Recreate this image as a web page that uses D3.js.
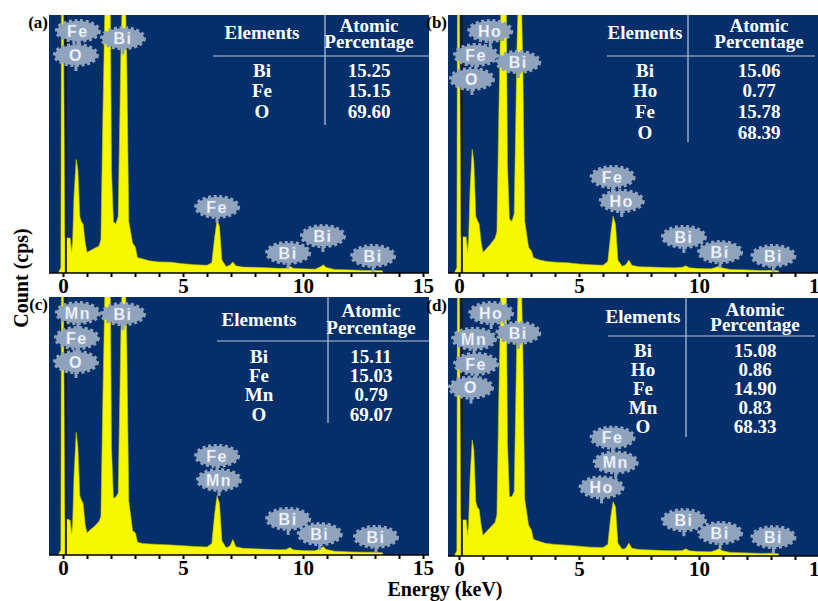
<!DOCTYPE html>
<html>
<head>
<meta charset="utf-8">
<script src="https://cdn.jsdelivr.net/npm/d3@7"></script>
<style>
  body { margin: 0; background: #fff; }
  text { font-family: "Liberation Serif", "Times New Roman", serif; font-weight: bold; }
  .badge text { font-family: "Liberation Sans", Arial, sans-serif; }
</style>
</head>
<body>
<script>
// energy grid (keV) shared by all four spectra
const energy = [-0.2, -0.09, -0.06, 0.0, 0.08, 0.16, 0.3, 0.36, 0.4, 0.46, 0.55, 0.62, 0.7, 0.76, 0.84, 0.92,
  1.0, 1.1, 1.3, 1.5, 1.58, 1.66, 1.8, 1.95, 2.02, 2.1, 2.2, 2.3, 2.42, 2.55, 2.66, 2.74, 2.9, 3.02, 3.1, 3.3,
  3.6, 4.0, 4.5, 5.0, 5.5, 6.0, 6.2, 6.32, 6.42, 6.52, 6.62, 6.8, 6.95, 7.08, 7.2, 7.5, 8.0, 8.5, 9.0, 9.3,
  9.45, 9.6, 10.0, 10.5, 10.75, 10.85, 10.95, 11.3, 12.0, 12.6, 13.0, 13.3, 13.35];

// counts (cps, relative to panel height = 100)
const countsA = [0, 2, 120, 120, 14, 13.6, 13.6, 8, 12, 30, 44, 40, 22, 20, 19, 12,
  8, 8.5, 9.5, 10.5, 13, 60, 130, 130, 40, 20, 19, 22, 90, 130, 80, 20, 11.6, 10, 6, 5.5,
  4.7, 4.3, 4.2, 3.6, 3.2, 3.0, 4, 14, 20.5, 18, 5, 2.5, 3.0, 4.3, 2.8, 2.3, 2.2, 2.0, 1.8, 1.8,
  2.6, 1.8, 1.6, 1.5, 2.5, 3.2, 2.2, 1.4, 1.2, 1.0, 1.0, 0.9, 0];
const countsB = [0, 2, 120, 120, 14.5, 14, 14, 8, 13, 32, 48, 43, 22, 20.5, 19, 12,
  8, 9, 11, 13.5, 16, 62, 130, 130, 42, 21, 20, 23, 90, 130, 80, 20, 10, 8.5, 6, 5.2,
  4.6, 4.2, 4.0, 3.5, 3.2, 3.0, 4.5, 15, 22, 19, 5, 2.6, 3.2, 5.0, 3.0, 2.4, 2.3, 2.1, 2.0, 2.2,
  2.8, 2.0, 1.7, 1.6, 2.3, 2.7, 2.0, 1.4, 1.2, 1.0, 1.1, 0.9, 0];
const countsC = [0, 2, 120, 120, 14, 14, 13.5, 8, 12, 31, 47.5, 42, 23, 21.5, 20, 12,
  8.5, 9.5, 11, 13, 15, 60, 130, 130, 42, 22, 22.5, 24, 90, 130, 80, 21, 9.5, 8.5, 5, 4.5,
  4.3, 4.1, 3.9, 3.6, 3.3, 3.1, 4.5, 16, 23, 20, 5.5, 2.8, 3.4, 6.0, 3.2, 2.6, 2.4, 2.2, 2.0, 2.1,
  2.9, 2.0, 1.7, 1.6, 2.6, 3.3, 2.2, 1.5, 1.2, 1.1, 1.1, 0.9, 0];
const countsD = [0, 2, 120, 120, 14.5, 14, 14, 8, 12.5, 30, 45, 41, 21, 19, 18, 12,
  8, 9, 11, 13, 16, 62, 130, 130, 44, 23, 23, 25, 90, 130, 80, 22, 12, 10, 6.5, 5.8,
  4.9, 4.5, 4.2, 3.8, 3.4, 3.3, 4.5, 15, 21, 19, 5, 2.6, 3.0, 5.0, 3.0, 2.5, 2.3, 2.1, 2.0, 2.1,
  2.8, 2.0, 1.7, 1.6, 2.4, 2.9, 2.1, 1.4, 1.2, 1.0, 1.1, 0.9, 0];

// element tables
const elementsA = ['Bi', 'Fe', 'O'];
const percentA = ['15.25', '15.15', '69.60'];
const elementsB = ['Bi', 'Ho', 'Fe', 'O'];
const percentB = ['15.06', '0.77', '15.78', '68.39'];
const elementsC = ['Bi', 'Fe', 'Mn', 'O'];
const percentC = ['15.11', '15.03', '0.79', '69.07'];
const elementsD = ['Bi', 'Ho', 'Fe', 'Mn', 'O'];
const percentD = ['15.08', '0.86', '14.90', '0.83', '68.33'];

// peak labels: [element, keV, height]
const peaksA = [['Fe', 0.62, 93.8], ['O', 0.54, 84.5], ['Bi', 2.5, 91], ['Fe', 6.42, 25.6],
  ['Bi', 9.38, 7.8], ['Bi', 10.83, 14.3], ['Bi', 12.92, 6.6]];
const peaksB = [['Ho', 1.3, 93.8], ['Fe', 0.71, 84.5], ['O', 0.54, 75.2], ['Bi', 2.47, 81.8],
  ['Fe', 6.4, 37.2], ['Ho', 6.78, 27.9], ['Bi', 9.37, 14], ['Bi', 10.88, 8.1], ['Bi', 13.1, 6.6]];
const peaksC = [['Mn', 0.62, 93.8], ['Bi', 2.5, 93.4], ['Fe', 0.58, 84.1], ['O', 0.54, 74.8],
  ['Fe', 6.42, 38.4], ['Mn', 6.5, 29.1], ['Bi', 9.38, 14], ['Bi', 10.7, 8.1], ['Bi', 13.04, 7]];
const peaksD = [['Ho', 1.34, 94.2], ['Mn', 0.63, 84.2], ['Bi', 2.47, 86.5], ['Fe', 0.71, 74.5],
  ['O', 0.5, 65.3], ['Fe', 6.4, 45.9], ['Mn', 6.53, 36.3], ['Ho', 5.94, 26.6],
  ['Bi', 9.37, 13.9], ['Bi', 10.88, 8.9], ['Bi', 13.1, 7.3]];

const tickKeV = d3.range(0, 16);
const detectorLine = 0.12;

const blue = '#052f6b', yellow = '#f7f700', badgeFill = '#8fa3bd';

const panels = [
  {id: 'a', counts: countsA, els: elementsA, pct: percentA, peaks: peaksA,
   left: 49, right: 429, top: 15, bottom: 273, x0: 63,
   tab: {elX: 262, valX: 369, headY: 32, atY: 25, pcY: 41, hY: 56, hX1: 213, hX2: 429, vX: 325, vY2: 125, rowY: 70, step: 20.5}},
  {id: 'b', counts: countsB, els: elementsB, pct: percentB, peaks: peaksB,
   left: 448, right: 830, top: 15, bottom: 273, x0: 459,
   tab: {elX: 645, valX: 759, headY: 32, atY: 25, pcY: 41, hY: 56, hX1: 607, hX2: 815, vX: 688, vY2: 142, rowY: 70, step: 20.8}},
  {id: 'c', counts: countsC, els: elementsC, pct: percentC, peaks: peaksC,
   left: 49, right: 429, top: 297, bottom: 555, x0: 63,
   tab: {elX: 259, valX: 371, headY: 319, atY: 310, pcY: 327, hY: 341, hX1: 217, hX2: 429, vX: 328, vY2: 423, rowY: 356, step: 19.3}},
  {id: 'd', counts: countsD, els: elementsD, pct: percentD, peaks: peaksD,
   left: 448, right: 830, top: 298, bottom: 556, x0: 459,
   tab: {elX: 643, valX: 755, headY: 316, atY: 309, pcY: 324, hY: 336, hX1: 608, hX2: 815, vX: 686, vY2: 437, rowY: 350, step: 19}}
];

const svg = d3.select('body').append('svg').attr('width', 818).attr('height', 601);

panels.forEach(p => {
  const g = svg.append('g');
  const x = d3.scaleLinear().domain([0, 15]).range([p.x0, p.x0 + 360]);
  const y = d3.scaleLinear().domain([0, 100]).range([p.bottom, p.top]);

  g.append('clipPath').attr('id', 'clip-' + p.id)
    .append('rect').attr('x', p.left).attr('y', p.top)
    .attr('width', p.right - p.left).attr('height', p.bottom - p.top);

  g.append('rect').attr('x', p.left).attr('y', p.top)
    .attr('width', p.right - p.left).attr('height', p.bottom - p.top)
    .attr('fill', blue);

  const series = energy.map((e, i) => [e, p.counts[i]]);
  const area = d3.area().x(d => x(d[0])).y0(y(0)).y1(d => y(d[1]));
  const plot = g.append('g').attr('clip-path', `url(#clip-${p.id})`);
  plot.append('path').datum(series).attr('d', area)
    .attr('fill', yellow).attr('stroke', '#c2c400').attr('stroke-width', 0.6);

  plot.append('line')
    .attr('x1', x(detectorLine)).attr('x2', x(detectorLine))
    .attr('y1', p.top).attr('y2', p.bottom)
    .attr('stroke', '#1b1b1b').attr('stroke-width', 2);

  // table
  const t = p.tab;
  const tg = g.append('g').attr('fill', '#fff').attr('font-size', 19).attr('text-anchor', 'middle');
  tg.append('text').attr('x', t.elX).attr('y', t.headY).attr('dy', '0.35em').text('Elements');
  const head = tg.append('text').attr('x', t.valX).attr('y', t.atY).attr('dy', '0.35em');
  head.append('tspan').attr('x', t.valX).text('Atomic');
  head.append('tspan').attr('x', t.valX).attr('dy', t.pcY - t.atY).text('Percentage');
  tg.selectAll('.el').data(p.els).join('text').attr('class', 'el')
    .attr('x', t.elX).attr('y', (d, i) => t.rowY + i * t.step).attr('dy', '0.35em').text(d => d);
  tg.selectAll('.pc').data(p.pct).join('text').attr('class', 'pc')
    .attr('x', t.valX).attr('y', (d, i) => t.rowY + i * t.step).attr('dy', '0.35em').text(d => d);
  g.append('line').attr('x1', t.hX1).attr('x2', Math.min(t.hX2, p.right)).attr('y1', t.hY).attr('y2', t.hY)
    .attr('stroke', '#b9c8e0').attr('stroke-width', 1.2);
  g.append('line').attr('x1', t.vX).attr('x2', t.vX).attr('y1', p.top).attr('y2', t.vY2)
    .attr('stroke', '#b9c8e0').attr('stroke-width', 1.2);

  // peak badges
  const badges = g.append('g').attr('clip-path', `url(#clip-${p.id})`)
    .selectAll('g').data(p.peaks).join('g').attr('class', 'badge')
    .attr('transform', d => `translate(${x(d[1])},${y(d[2])})`);
  badges.append('rect').attr('x', -1.5).attr('y', 8).attr('width', 3).attr('height', 8).attr('fill', badgeFill);
  badges.append('ellipse').attr('rx', 21).attr('ry', 10)
    .attr('fill', badgeFill).attr('stroke', badgeFill).attr('stroke-width', 4).attr('stroke-dasharray', '3 2.5');
  badges.append('text').attr('text-anchor', 'middle').attr('dy', '0.36em')
    .attr('font-size', 16).attr('letter-spacing', 1.5)
    .attr('fill', '#f6f8ff').attr('stroke', '#b4c4dc').attr('stroke-width', 0.4)
    .text(d => d[0]);

  // x axis
  const ax = g.append('g').attr('transform', `translate(0,${p.bottom})`)
    .call(d3.axisBottom(x).tickValues(tickKeV).tickSize(4).tickPadding(3)
      .tickFormat(d => d % 5 === 0 ? d : ''));
  ax.select('.domain').remove();
  ax.selectAll('.tick line').attr('stroke', '#000').attr('stroke-width', 2);
  ax.selectAll('.tick text').attr('fill', '#000').attr('font-size', 21)
    .attr('font-family', '"Liberation Serif", serif').attr('font-weight', 'bold').attr('dy', '0.62em');
  g.append('line').attr('x1', p.left).attr('x2', p.right).attr('y1', p.bottom).attr('y2', p.bottom)
    .attr('stroke', '#000').attr('stroke-width', 1.5);

  // panel letter
  g.append('text').attr('x', p.left - 1).attr('y', p.top + 13)
    .attr('text-anchor', 'end').attr('font-size', 17).attr('fill', '#000').text(`(${p.id})`);
});

svg.append('text').attr('x', 445).attr('y', 596).attr('text-anchor', 'middle')
  .attr('font-size', 20).text('Energy (keV)');
svg.append('text').attr('transform', 'translate(28,278) rotate(-90)').attr('text-anchor', 'middle')
  .attr('font-size', 20).text('Count (cps)');
</script>
</body>
</html>
